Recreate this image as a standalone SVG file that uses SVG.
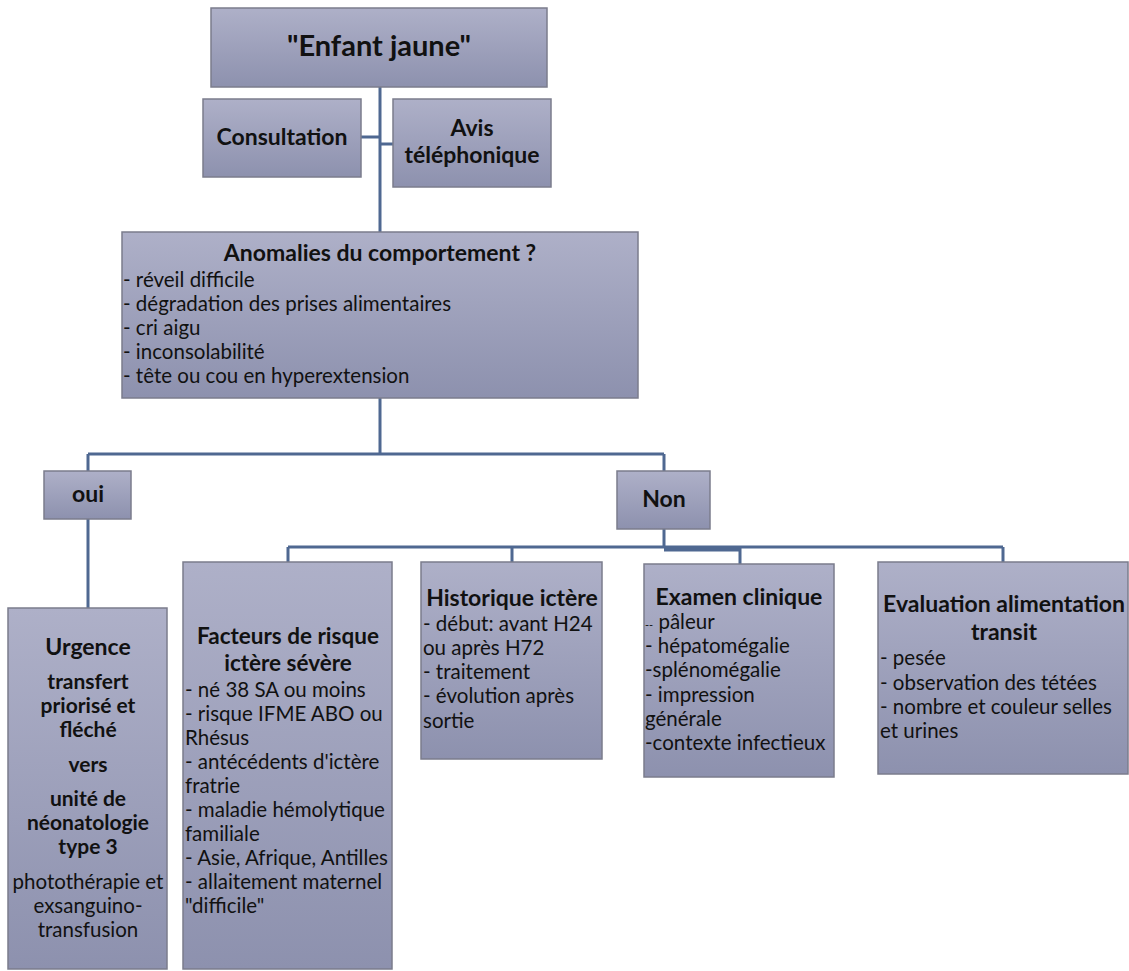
<svg xmlns="http://www.w3.org/2000/svg" width="1129" height="971" viewBox="0 0 1129 971">
<style>
.box{fill:url(#g);stroke:#7b7c8c;stroke-width:1.5}
.con{stroke:#4f6891;stroke-width:3;fill:none}
text{font-family:Lato,"Liberation Sans",sans-serif;fill:#111}
.t{font-weight:bold;font-size:23px;text-anchor:middle}
.b{font-size:20.5px}
.c{text-anchor:middle}
.sb{font-weight:bold;font-size:21px;text-anchor:middle}
</style>
<defs>
<linearGradient id="g" x1="0" y1="0" x2="0" y2="1">
<stop offset="0" stop-color="#aeb0c8"/>
<stop offset="1" stop-color="#8d91ae"/>
</linearGradient>
</defs>
<g id="connectors">
<path class="con" d="M380 87V232M361 137H380M380 144H393M380 398V454M88 454H664M88 454V471M88 519V608M664 454V471M664 529V547M288 547H1003M664 550H740M288 547V562M512 547V562M740 547V564M1003 547V562"/>
</g>
<g id="n-enfant">
<rect class="box" x="211" y="8" width="336" height="79"/>
<text class="t" x="379" y="56" style="font-size:29px">"Enfant jaune"</text>
</g>
<g id="n-consultation">
<rect class="box" x="203" y="99" width="158" height="78"/>
<text class="t" x="282" y="145">Consultation</text>
</g>
<g id="n-avis">
<rect class="box" x="393" y="99" width="158" height="88"/>
<text class="t" x="472" y="136">Avis</text>
<text class="t" x="472" y="163">téléphonique</text>
</g>
<g id="n-anomalies">
<rect class="box" x="122" y="232" width="516" height="166"/>
<text class="t" x="380" y="261">Anomalies du comportement ?</text>
<text class="b" x="123" y="287">- réveil difficile</text>
<text class="b" x="123" y="311">- dégradation des prises alimentaires</text>
<text class="b" x="123" y="335">- cri aigu</text>
<text class="b" x="123" y="359">- inconsolabilité</text>
<text class="b" x="123" y="383">- tête ou cou en hyperextension</text>
</g>
<g id="n-oui">
<rect class="box" x="44" y="471" width="87" height="48"/>
<text class="t" x="88" y="502">oui</text>
</g>
<g id="n-non">
<rect class="box" x="617" y="471" width="93" height="58"/>
<text class="t" x="664" y="507">Non</text>
</g>
<g id="n-urgence">
<rect class="box" x="8" y="608" width="159" height="361"/>
<text class="t" x="88" y="655">Urgence</text>
<text class="sb" x="88" y="689">transfert</text>
<text class="sb" x="88" y="713">priorisé et</text>
<text class="sb" x="88" y="737">fléché</text>
<text class="sb" x="88" y="772">vers</text>
<text class="sb" x="88" y="806">unité de</text>
<text class="sb" x="88" y="830">néonatologie</text>
<text class="sb" x="88" y="854">type 3</text>
<text class="b c" x="88" y="889">photothérapie et</text>
<text class="b c" x="88" y="913">exsanguino-</text>
<text class="b c" x="88" y="937">transfusion</text>
</g>
<g id="n-facteurs">
<rect class="box" x="183" y="562" width="209" height="407"/>
<text class="t" x="288" y="644" style="font-size:22.5px">Facteurs de risque</text>
<text class="t" x="288" y="671" style="font-size:22.5px">ictère sévère</text>
<text class="b" x="185" y="697">- né 38 SA ou moins</text>
<text class="b" x="185" y="721">- risque IFME ABO ou</text>
<text class="b" x="185" y="745">Rhésus</text>
<text class="b" x="185" y="769">- antécédents d'ictère</text>
<text class="b" x="185" y="793">fratrie</text>
<text class="b" x="185" y="817">- maladie hémolytique</text>
<text class="b" x="185" y="841">familiale</text>
<text class="b" x="185" y="865">- Asie, Afrique, Antilles</text>
<text class="b" x="185" y="889">- allaitement maternel</text>
<text class="b" x="185" y="913">"difficile"</text>
</g>
<g id="n-historique">
<rect class="box" x="421" y="562" width="181" height="197"/>
<text class="t" x="512" y="606">Historique ictère</text>
<text class="b" x="423" y="631">- début: avant H24</text>
<text class="b" x="423" y="655">ou après H72</text>
<text class="b" x="423" y="679">- traitement</text>
<text class="b" x="423" y="703">- évolution après</text>
<text class="b" x="423" y="728">sortie</text>
</g>
<g id="n-examen">
<rect class="box" x="644" y="564" width="190" height="213"/>
<text class="t" x="739" y="605">Examen clinique</text>
<text class="b" x="645" y="629"><tspan style="font-size:11px">--</tspan> pâleur</text>
<text class="b" x="645" y="653">- hépatomégalie</text>
<text class="b" x="645" y="677">-splénomégalie</text>
<text class="b" x="645" y="702">- impression</text>
<text class="b" x="645" y="726">générale</text>
<text class="b" x="645" y="750">-contexte infectieux</text>
</g>
<g id="n-evaluation">
<rect class="box" x="878" y="562" width="250" height="212"/>
<text class="t" x="1004" y="612">Evaluation alimentation</text>
<text class="t" x="1004" y="640">transit</text>
<text class="b" x="880" y="665">- pesée</text>
<text class="b" x="880" y="690">- observation des tétées</text>
<text class="b" x="880" y="714">- nombre et couleur selles</text>
<text class="b" x="880" y="738">et urines</text>
</g>
</svg>
